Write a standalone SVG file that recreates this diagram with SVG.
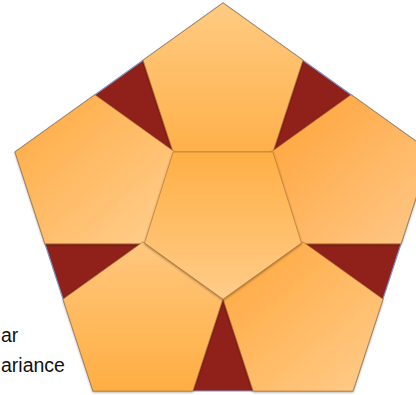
<svg xmlns="http://www.w3.org/2000/svg" width="416" height="395" viewBox="0 0 416 395">
<style>
.lbl{font-family:"Liberation Sans",Arial,sans-serif;font-size:19.5px;fill:#111;}
.tile{stroke:#B07A3A;stroke-width:0.9;stroke-opacity:0.75;stroke-linejoin:round;filter:url(#sh);}
</style>
<defs>
<filter id="sh" x="-10%" y="-10%" width="120%" height="125%">
<feDropShadow dx="0" dy="1.2" stdDeviation="1" flood-color="#000" flood-opacity="0.35"/>
</filter>
<linearGradient id="gTop" x1="0" y1="0" x2="0" y2="1"><stop offset="0" stop-color="#FFCB82"/><stop offset="1" stop-color="#FFB04A"/></linearGradient>
<linearGradient id="gCenter" x1="0" y1="0" x2="0" y2="1"><stop offset="0" stop-color="#FFAF45"/><stop offset="1" stop-color="#FFCC8A"/></linearGradient>
<linearGradient id="gLeft" x1="0" y1="0" x2="1" y2="1"><stop offset="0" stop-color="#FFA93F"/><stop offset="1" stop-color="#FFCF90"/></linearGradient>
<linearGradient id="gRight" x1="0" y1="0" x2="1" y2="1"><stop offset="0" stop-color="#FFA236"/><stop offset="1" stop-color="#FFC98A"/></linearGradient>
<linearGradient id="gBL" x1="0" y1="0" x2="0" y2="1"><stop offset="0" stop-color="#FFC77E"/><stop offset="1" stop-color="#FFAE42"/></linearGradient>
<linearGradient id="gBR" x1="0" y1="0" x2="1" y2="1"><stop offset="0" stop-color="#FFA63A"/><stop offset="1" stop-color="#FFCD8C"/></linearGradient>
</defs>
<rect width="416" height="395" fill="#FFFFFF"/>
<g id="labels">
<text class="lbl" x="1" y="342">ar</text>
<text class="lbl" x="1" y="371.5">ariance</text>
</g>
<g id="outer">
<polygon points="223,3 431,152 353,391 93,391 15,152" fill="#90211A" stroke="#7D97C6" stroke-width="1.2"/>
</g>
<g id="tile-top"><polygon class="tile" fill="url(#gTop)" points="223,3 302.9,60.2 272.9,152 173.1,152 143.1,60.2"/></g>
<g id="tile-right"><polygon class="tile" fill="url(#gRight)" points="351.1,94.8 431,152 401,243.8 301.2,243.8 271.3,152"/></g>
<g id="tile-left"><polygon class="tile" fill="url(#gLeft)" points="94.9,94.8 174.7,152 144.8,243.8 45,243.8 15,152"/></g>
<g id="tile-bottom-right"><polygon class="tile" fill="url(#gBR)" points="303.1,242 383,299.2 353,391 253.2,391 223.2,299.2"/></g>
<g id="tile-bottom-left"><polygon class="tile" fill="url(#gBL)" points="142.9,242 222.8,299.2 192.8,391 93,391 63,299.2"/></g>
<g id="tile-center"><polygon class="tile" fill="url(#gCenter)" points="173.1,152 272.9,152 301.5,243 223,299.2 144.5,243"/></g>
<g id="connectors"></g>
</svg>
